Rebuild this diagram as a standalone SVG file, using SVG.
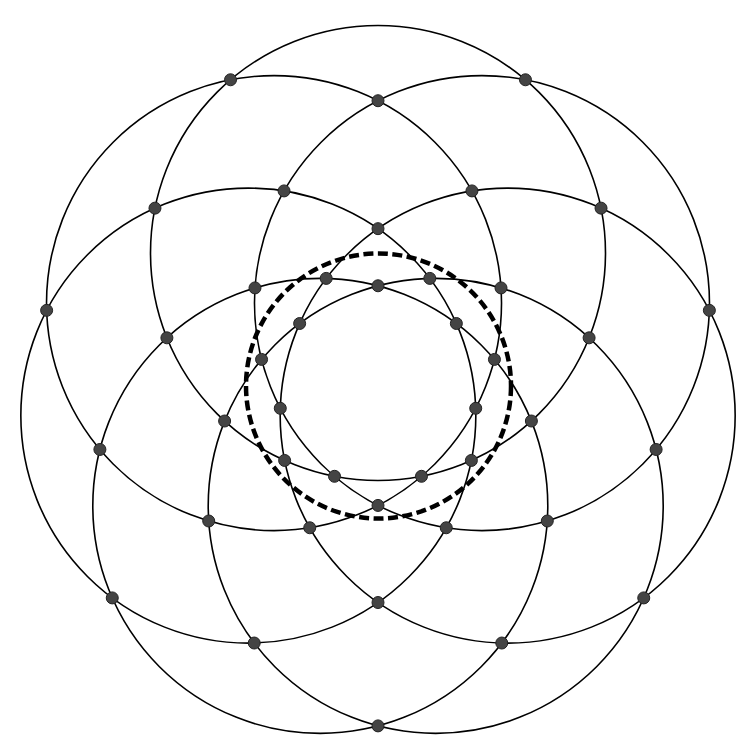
<svg xmlns="http://www.w3.org/2000/svg" width="747" height="743" viewBox="0 0 747 743">
<style>
.c{fill:none;stroke:#000;stroke-width:1.6}
.dash{fill:none;stroke:#000;stroke-width:4.5;stroke-dasharray:10 4.5}
.p{fill:#444;stroke:#222;stroke-width:1}
</style>
<rect width="747" height="743" fill="#fff"/>
<g id="connectors">
<circle class="c" cx="378" cy="253" r="227.5"/>
<circle class="c" cx="481.98" cy="303.08" r="227.5"/>
<circle class="c" cx="507.67" cy="415.6" r="227.5"/>
<circle class="c" cx="435.71" cy="505.83" r="227.5"/>
<circle class="c" cx="320.29" cy="505.83" r="227.5"/>
<circle class="c" cx="248.33" cy="415.6" r="227.5"/>
<circle class="c" cx="274.02" cy="303.08" r="227.5"/>
<circle class="dash" cx="378.5" cy="386" r="132.5"/>
</g>
<g id="nodes">
<g id="ringA">
<circle class="p" cx="525.47" cy="79.77" r="6"/>
<circle class="p" cx="709.37" cy="310.37" r="6"/>
<circle class="p" cx="643.74" cy="597.92" r="6"/>
<circle class="p" cx="378" cy="725.89" r="6"/>
<circle class="p" cx="112.26" cy="597.92" r="6"/>
<circle class="p" cx="46.63" cy="310.37" r="6"/>
<circle class="p" cx="230.53" cy="79.77" r="6"/>
</g>
<g id="ringB">
<circle class="p" cx="378" cy="100.73" r="6"/>
<circle class="p" cx="601.03" cy="208.14" r="6"/>
<circle class="p" cx="656.12" cy="449.48" r="6"/>
<circle class="p" cx="501.77" cy="643.02" r="6"/>
<circle class="p" cx="254.23" cy="643.02" r="6"/>
<circle class="p" cx="99.88" cy="449.48" r="6"/>
<circle class="p" cx="154.97" cy="208.14" r="6"/>
</g>
<g id="ringC">
<circle class="p" cx="471.95" cy="190.91" r="6"/>
<circle class="p" cx="589.1" cy="337.82" r="6"/>
<circle class="p" cx="547.29" cy="521" r="6"/>
<circle class="p" cx="378" cy="602.53" r="6"/>
<circle class="p" cx="208.71" cy="521" r="6"/>
<circle class="p" cx="166.9" cy="337.82" r="6"/>
<circle class="p" cx="284.05" cy="190.91" r="6"/>
</g>
<g id="ringD">
<circle class="p" cx="378" cy="228.67" r="6"/>
<circle class="p" cx="501.01" cy="287.91" r="6"/>
<circle class="p" cx="531.39" cy="421.01" r="6"/>
<circle class="p" cx="446.26" cy="527.75" r="6"/>
<circle class="p" cx="309.74" cy="527.75" r="6"/>
<circle class="p" cx="224.61" cy="421.01" r="6"/>
<circle class="p" cx="254.99" cy="287.91" r="6"/>
</g>
<g id="ringE">
<circle class="p" cx="378" cy="285.77" r="6"/>
<circle class="p" cx="456.36" cy="323.51" r="6"/>
<circle class="p" cx="475.72" cy="408.3" r="6"/>
<circle class="p" cx="421.49" cy="476.3" r="6"/>
<circle class="p" cx="334.51" cy="476.3" r="6"/>
<circle class="p" cx="280.28" cy="408.3" r="6"/>
<circle class="p" cx="299.64" cy="323.51" r="6"/>
</g>
<g id="ringF">
<circle class="p" cx="429.82" cy="278.4" r="6"/>
<circle class="p" cx="494.44" cy="359.42" r="6"/>
<circle class="p" cx="471.37" cy="460.46" r="6"/>
<circle class="p" cx="378" cy="505.43" r="6"/>
<circle class="p" cx="284.63" cy="460.46" r="6"/>
<circle class="p" cx="261.56" cy="359.42" r="6"/>
<circle class="p" cx="326.18" cy="278.4" r="6"/>
</g>
</g>
</svg>
